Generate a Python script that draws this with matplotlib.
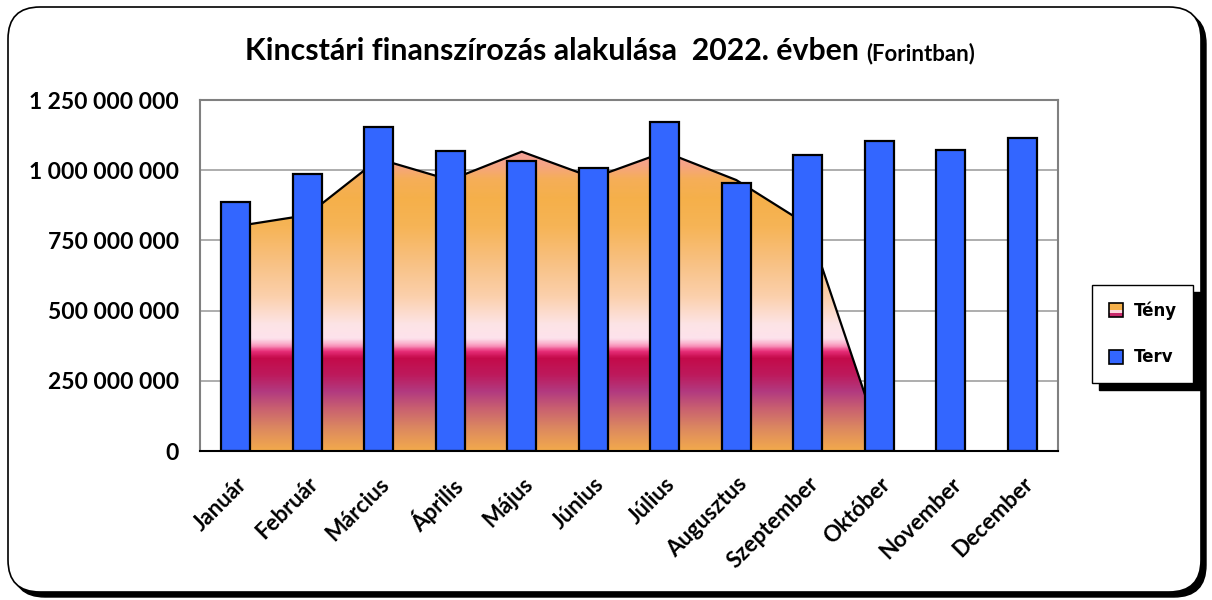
import matplotlib
matplotlib.use("Agg")
import matplotlib.pyplot as plt
import matplotlib.patches as mpatches
import matplotlib.transforms as mtransforms
from matplotlib.colors import LinearSegmentedColormap
from matplotlib.legend_handler import HandlerBase
from matplotlib.ticker import FuncFormatter, MultipleLocator
import numpy as np

months = ["Január", "Február", "Március", "Április", "Május", "Június",
          "Július", "Augusztus", "Szeptember", "Október", "November", "December"]
# no actual data yet for November and December
teny = [800e6, 840e6, 1040e6, 965e6, 1066e6, 973e6,
        1065e6, 965e6, 805e6, 50e6, np.nan, np.nan]
terv = [888e6, 986e6, 1155e6, 1069e6, 1033e6, 1009e6,
        1173e6, 955e6, 1054e6, 1105e6, 1072e6, 1114e6]

# gradient stops of the "Tény" area (value in billions, colour)
grad_stops = [(0.00, "#f2aa4c"), (0.08, "#dc8860"), (0.15, "#c96070"),
              (0.21, "#b23a80"), (0.27, "#bd1a5c"), (0.33, "#c40a4a"),
              (0.355, "#e8307a"), (0.375, "#fa9cc0"), (0.40, "#fde2ec"),
              (0.45, "#fde4e6"), (0.55, "#fbd0ac"), (0.68, "#f8c080"),
              (0.80, "#f6b456"), (0.90, "#f5b04a"), (0.97, "#f5ae58"),
              (1.02, "#f6a484"), (1.08, "#f4a0a0"), (1.25, "#f4a0a0")]

ymax = 1.25e9
cmap = LinearSegmentedColormap.from_list(
    "teny", [(v / 1.25, c) for v, c in grad_stops])


class GradientHandler(HandlerBase):
    # small legend key with the orange / pink / crimson look of the area
    def create_artists(self, legend, orig_handle, xdescent, ydescent,
                       width, height, fontsize, trans):
        side = min(width, height)
        x0 = -xdescent + (width - side) / 2
        y0 = -ydescent + (height - side) / 2
        parts = [(0.0, 0.3, "#c8286a"), (0.3, 0.25, "#fbd6dc"),
                 (0.55, 0.45, "#f5b04a")]
        arts = []
        for start, frac, col in parts:
            arts.append(mpatches.Rectangle((x0, y0 + start * side), side,
                                           frac * side, facecolor=col,
                                           edgecolor="none", transform=trans))
        arts.append(mpatches.Rectangle((x0, y0), side, side, facecolor="none",
                                       edgecolor="black", linewidth=1.2,
                                       transform=trans))
        return arts


class SquareHandler(HandlerBase):
    def create_artists(self, legend, orig_handle, xdescent, ydescent,
                       width, height, fontsize, trans):
        side = min(width, height)
        x0 = -xdescent + (width - side) / 2
        y0 = -ydescent + (height - side) / 2
        return [mpatches.Rectangle((x0, y0), side, side,
                                   facecolor=orig_handle.get_facecolor(),
                                   edgecolor="black", linewidth=1.2,
                                   transform=trans)]


fig = plt.figure(figsize=(12.12, 6), dpi=100)
fig.patch.set_facecolor("white")

# rounded chart frame with black shadow
ident = mtransforms.IdentityTransform()
shadow = mpatches.FancyBboxPatch((13, 3), 1193, 585,
                                 boxstyle="round,pad=0,rounding_size=32",
                                 transform=ident, facecolor="black",
                                 edgecolor="black", zorder=-3)
frame = mpatches.FancyBboxPatch((8, 8), 1193, 585,
                                boxstyle="round,pad=0,rounding_size=32",
                                transform=ident, facecolor="white",
                                edgecolor="black", linewidth=1.2, zorder=-2)
fig.add_artist(shadow)
fig.add_artist(frame)

ax = fig.add_axes([200 / 1212, 149 / 600, 858 / 1212, 351 / 600])
ax.set_facecolor("none")
x = np.arange(len(months))

# gradient-filled area
teny_arr = np.array(teny)
ok = ~np.isnan(teny_arr)
poly = ax.fill_between(x[ok], 0, teny_arr[ok], facecolor="none",
                       edgecolor="none", zorder=1)
grad = np.linspace(0, 1, 512).reshape(-1, 1)
img = ax.imshow(grad, cmap=cmap, origin="lower", aspect="auto",
                extent=[-0.5, len(months) - 0.5, 0, ymax], zorder=1)
img.set_clip_path(poly.get_paths()[0], ax.transData)
ax.plot(x[ok], teny_arr[ok], color="black", linewidth=1.6, zorder=2)

# bars
ax.bar(x, terv, width=0.4, color="#3366ff", edgecolor="black",
       linewidth=1.6, zorder=3)

ax.set_xlim(-0.5, len(months) - 0.5)
ax.set_ylim(0, ymax)
ax.yaxis.set_major_locator(MultipleLocator(250e6))
ax.yaxis.set_major_formatter(
    FuncFormatter(lambda v, p: f"{int(v):,}".replace(",", " ")))
ax.grid(axis="y", color="#a0a0a0", linewidth=1.2, zorder=0)
ax.set_axisbelow(True)
for s in ["left", "top", "right"]:
    ax.spines[s].set_color("#808080")
    ax.spines[s].set_linewidth(1.5)
ax.spines["bottom"].set_color("black")
ax.spines["bottom"].set_linewidth(1.5)
ax.spines["bottom"].set_zorder(4)
ax.tick_params(axis="both", length=0)
ax.tick_params(axis="y", pad=15)
ax.tick_params(axis="x", pad=16)
ax.set_xticks(x)
ax.set_xticklabels(months, rotation=45, ha="right", rotation_mode="anchor",
                   fontsize=16, fontweight="bold", family="Lato")
for lbl in ax.get_yticklabels():
    lbl.set_fontsize(16.5)
    lbl.set_fontweight("bold")
    lbl.set_family("Lato")

# title in two parts
fig.canvas.draw()
r = fig.canvas.get_renderer()
t1 = fig.text(0, 0, "Kincstári finanszírozás alakulása  2022. évben ",
              fontsize=21.8, fontweight="bold", family="Lato",
              transform=ident)
t2 = fig.text(0, 0, "(Forintban)", fontsize=16, fontweight="bold",
              family="Lato", transform=ident)
w1 = t1.get_window_extent(r).width
w2 = t2.get_window_extent(r).width
x0 = 610 - (w1 + w2) / 2
t1.set_position((x0, 600 - 60))
t2.set_position((x0 + w1, 600 - 60))

# legend
h_teny = mpatches.Patch(facecolor="#f5b04a", label="Tény")
h_terv = mpatches.Patch(facecolor="#3366ff", label="Terv")
leg = fig.legend(handles=[h_teny, h_terv],
                 handler_map={h_teny: GradientHandler(), h_terv: SquareHandler()},
                 loc="center left",
                 bbox_to_anchor=(1092 / 1212, 266 / 600),
                 frameon=True, fancybox=False,
                 shadow={"color": "black", "alpha": 1, "ox": 5, "oy": -5},
                 prop={"family": "DejaVu Sans", "weight": "bold", "size": 12},
                 handlelength=0.9, handleheight=0.9, handletextpad=0.6,
                 labelspacing=1.7, borderpad=1.0, borderaxespad=0)
leg.get_frame().set_edgecolor("black")
leg.get_frame().set_linewidth(1.0)

fig.savefig("out.png", dpi=100)
